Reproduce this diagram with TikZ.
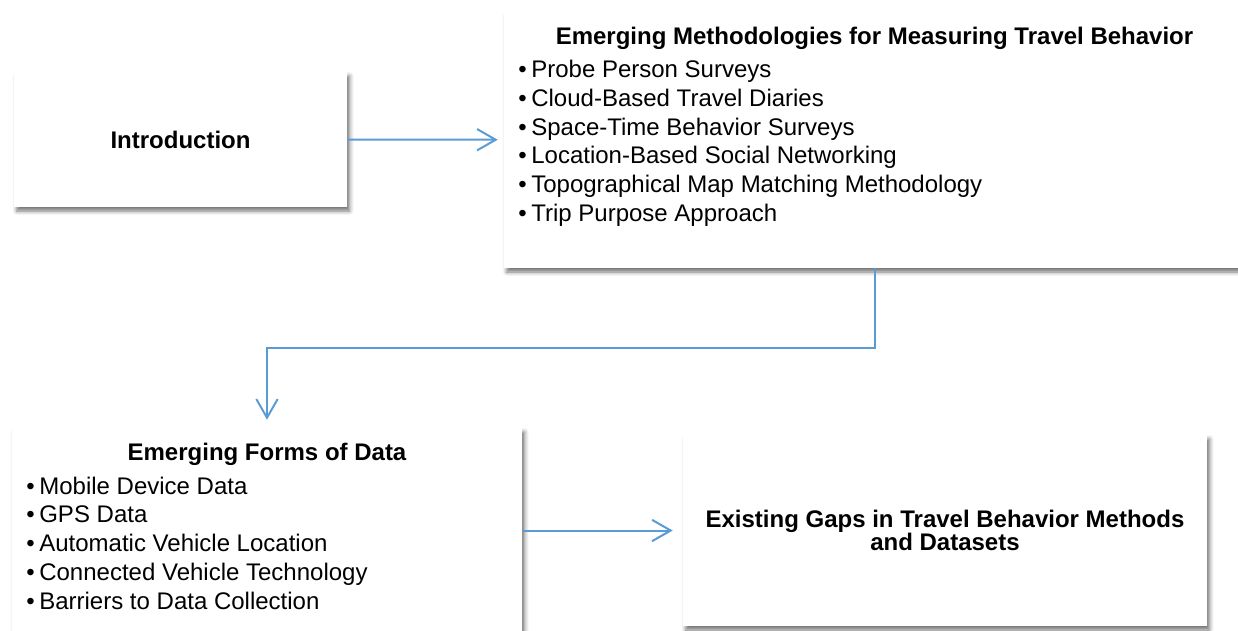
\documentclass[tikz,border=0pt]{standalone}
\usepackage{fontspec}
\setmainfont{Liberation Sans}
\usepackage{tikz}
\usetikzlibrary{calc,positioning,shapes,arrows.meta,shadows.blur}
\definecolor{FlowBlue}{HTML}{5B9BD5}
\definecolor{FlowText}{HTML}{000000}
\definecolor{FlowShadow}{HTML}{555555}

\begin{document}
\begin{tikzpicture}[x=0.75pt, y=-0.75pt,
  blk/.style={rectangle, draw=none, fill=white, inner sep=0pt,
              blur shadow={shadow xshift=2pt, shadow yshift=-3pt,
                           shadow blur radius=3pt, shadow opacity=55}},
  ttl/.style={font=\fontsize{18}{17}\selectfont\bfseries, text=FlowText,
              align=center, inner sep=0pt},
  itm/.style={font=\fontsize{18}{21.5}\selectfont, text=FlowText,
              anchor=base west, inner sep=0pt},
  arr/.style={-{Straight Barb[length=14pt, width=16pt]}, line width=1.5pt,
              color=FlowBlue}
]
  \useasboundingbox (0,0) rectangle (1238,631);
  \node[blk, minimum width=249.75pt, minimum height=101.25pt] (intro) at (180.5, 139.5) {};
  \node[blk, minimum width=555.75pt, minimum height=192pt]    (meth)  at (874.5, 140)   {};
  \node[blk, minimum width=382.5pt,  minimum height=153.75pt] (forms) at (267, 530.5)   {};
  \node[blk, minimum width=393pt,    minimum height=143.25pt] (gaps)  at (945, 530.5)   {};
  % box titles
  \node[ttl] at (intro) {Introduction};
  \node[ttl, anchor=base] at (874.5, 45) {Emerging Methodologies for Measuring Travel Behavior};
  \node[ttl, anchor=base] at (267, 460) {Emerging Forms of Data};
  \node[ttl] at (gaps) {Existing Gaps in Travel Behavior Methods\\and Datasets};
  % bullet lists
  \node[itm] at (518, 78.0)  {\textbullet\hspace{3.5pt}Probe Person Surveys};
  \node[itm] at (518, 106.6) {\textbullet\hspace{3.5pt}Cloud-Based Travel Diaries};
  \node[itm] at (518, 135.2) {\textbullet\hspace{3.5pt}Space-Time Behavior Surveys};
  \node[itm] at (518, 163.8) {\textbullet\hspace{3.5pt}Location-Based Social Networking};
  \node[itm] at (518, 192.4) {\textbullet\hspace{3.5pt}Topographical Map Matching Methodology};
  \node[itm] at (518, 221.0) {\textbullet\hspace{3.5pt}Trip Purpose Approach};
  \node[itm] at (26, 494.0)  {\textbullet\hspace{3.5pt}Mobile Device Data};
  \node[itm] at (26, 522.8)  {\textbullet\hspace{3.5pt}GPS Data};
  \node[itm] at (26, 551.5)  {\textbullet\hspace{3.5pt}Automatic Vehicle Location};
  \node[itm] at (26, 580.2)  {\textbullet\hspace{3.5pt}Connected Vehicle Technology};
  \node[itm] at (26, 609.0)  {\textbullet\hspace{3.5pt}Barriers to Data Collection};
  % connectors
  \draw[arr, shorten >=4.5pt] (intro) -- (meth);
  \draw[arr, shorten >=6pt]   (meth.south) -- ++(0,80) -| (forms.north);
  \draw[arr, shorten >=7.5pt] (forms) -- (gaps);
\end{tikzpicture}
\end{document}
